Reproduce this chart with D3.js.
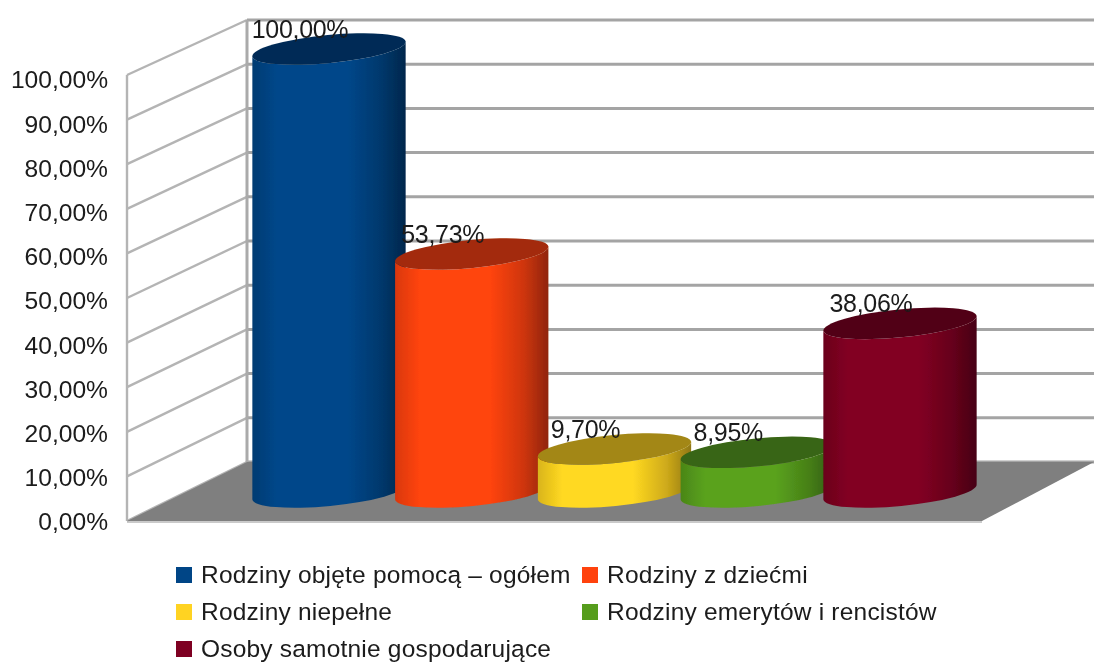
<!DOCTYPE html>
<html><head><meta charset="utf-8">
<script src="https://cdnjs.cloudflare.com/ajax/libs/d3/7.8.5/d3.min.js"></script>
<style>html,body{margin:0;background:#fff}svg{display:block}text{font-family:"Liberation Sans",Arial,sans-serif;fill:#1a1a1a}</style>
</head><body><svg id="c" width="1094" height="664"></svg>
<script>
const categories=["Rodziny objęte pomocą – ogółem","Rodziny z dziećmi","Rodziny niepełne","Rodziny emerytów i rencistów","Osoby samotnie gospodarujące"];
const values=[100,53.73,9.70,8.95,38.06];
const valueLabels=["100,00%","53,73%","9,70%","8,95%","38,06%"];
const colors=["#004586","#ff420e","#ffd320","#579d1c","#7e0021"];
const tickValues=[0,10,20,30,40,50,60,70,80,90,100];
const tickLabels=["0,00%","10,00%","20,00%","30,00%","40,00%","50,00%","60,00%","70,00%","80,00%","90,00%","100,00%"];

const svg=d3.select("#c");
const defs=svg.append("defs");
defs.append("filter").attr("id","soft").append("feGaussianBlur").attr("stdDeviation",0.55);
defs.append("filter").attr("id","soft2").append("feGaussianBlur").attr("stdDeviation",0.75);

const yFront=d3.scaleLinear().domain([0,100]).range([521,75]);
const yBack=d3.scaleLinear().domain([0,100]).range([462,20]);
const yTick=d3.scaleLinear().domain([0,100]).range([522,80]);
const yBar=d3.scaleLinear().domain([0,100]).range([492,49]);
const x=d3.scalePoint().domain(categories).range([329,900]);
const xFrontL=127,xBackL=247,xFrontR=982,xBackR=1094;
const rx=77,ry=14,tilt=-5.5;
const dx=rx*Math.cos(tilt*Math.PI/180),dy=rx*Math.sin(tilt*Math.PI/180);

// walls
const walls=svg.append("g").attr("filter","url(#soft2)");
walls.selectAll("line.b").data(tickValues).join("line").attr("class","b")
 .attr("x1",xBackL).attr("x2",xBackR).attr("y1",d=>yBack(d)).attr("y2",d=>yBack(d))
 .attr("stroke","#a4a4a4").attr("stroke-width",3);
walls.selectAll("line.l").data(tickValues).join("line").attr("class","l")
 .attr("x1",xFrontL).attr("x2",xBackL).attr("y1",d=>yFront(d)).attr("y2",d=>yBack(d))
 .attr("stroke","#b4b4b4").attr("stroke-width",2.4);
walls.append("line").attr("x1",xBackL).attr("x2",xBackL).attr("y1",yBack(100)).attr("y2",yBack(0)).attr("stroke","#aaa").attr("stroke-width",3);
walls.append("line").attr("x1",xFrontL).attr("x2",xFrontL).attr("y1",yFront(100)).attr("y2",yFront(0)).attr("stroke","#b4b4b4").attr("stroke-width",2.4);
// floor
walls.append("path").attr("d",d3.line()([[xFrontL,yFront(0)],[xBackL,yBack(0)],[xBackR,yBack(0)],[xFrontR,yFront(0)]])+"Z").attr("fill","#7f7f7f");
walls.append("line").attr("x1",xFrontL).attr("x2",xFrontR).attr("y1",yFront(0)+1).attr("y2",yFront(0)+1).attr("stroke","#b8b8b8").attr("stroke-width",1.5);

// axis
const axis=d3.axisLeft(yTick).tickValues(tickValues).tickSize(0).tickPadding(0).tickFormat((d,i)=>tickLabels[i]);
const ag=svg.append("g").attr("transform","translate(108,0)").attr("filter","url(#soft)").call(axis);
ag.select(".domain").remove();
ag.selectAll("text").style("font-size","24.6px").style("font-family",'"Liberation Sans"').attr("fill","#1a1a1a");

// cylinders
colors.forEach((c,i)=>{
 const g=defs.append("linearGradient").attr("id","g"+i);
 const k=d3.color(c);
 [[0,k.darker(0.45)],[0.16,k.brighter(0.08)],[0.62,k.brighter(0.08)],[0.84,k.darker(0.6)],[1,k.darker(1.6)]].forEach(([o,col])=>
   g.append("stop").attr("offset",o).attr("stop-color",col));
});
const bars=svg.append("g").attr("filter","url(#soft)").selectAll("g").data(categories).join("g");
bars.append("path").attr("fill",(d,i)=>`url(#g${i})`).attr("d",(d,i)=>{
  const cx=x(d),t=yBar(values[i]),b=yBar(0);
  return `M${cx-dx},${t-dy}L${cx-dx},${b-dy}A${rx},${ry} ${tilt} 0 0 ${cx+dx},${b+dy}L${cx+dx},${t+dy}A${rx},${ry} ${tilt} 0 1 ${cx-dx},${t-dy}Z`;
});
bars.append("ellipse").attr("rx",rx).attr("ry",ry)
 .attr("transform",(d,i)=>`translate(${x(d)},${yBar(values[i])}) rotate(${tilt})`)
 .attr("fill",(d,i)=>d3.color(colors[i]).darker(1.25));

// value labels
svg.append("g").attr("filter","url(#soft)").selectAll("text").data(categories).join("text")
 .attr("x",d=>x(d)-29).attr("y",(d,i)=>yBar(values[i])-11)
 .attr("text-anchor","middle").attr("font-size",25).attr("letter-spacing",-0.3)
 .text((d,i)=>valueLabels[i]);

// legend
const legendX=[176,582],legendY=[575,612,649];
const lg=svg.append("g").attr("filter","url(#soft)").selectAll("g").data(categories).join("g")
 .attr("transform",(d,i)=>`translate(${legendX[i<4?i%2:0]},${legendY[Math.floor(i/2)]})`);
lg.append("rect").attr("y",-8).attr("width",16).attr("height",16).attr("fill",(d,i)=>colors[i]);
lg.append("text").attr("x",25).attr("y",8).attr("font-size",24.5).attr("letter-spacing",0.2).text(d=>d);
</script></body></html>
